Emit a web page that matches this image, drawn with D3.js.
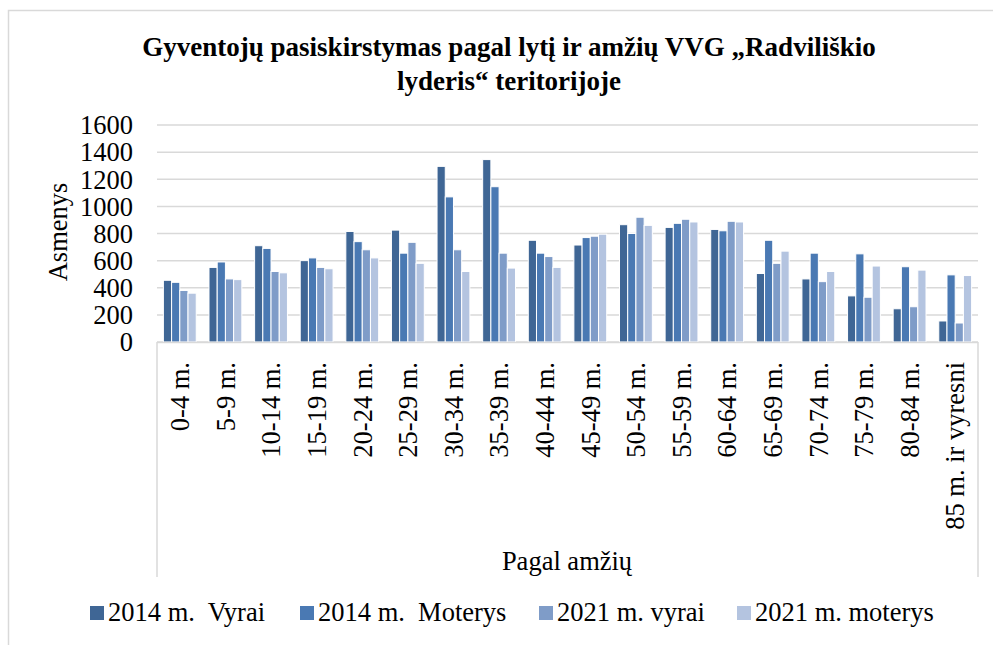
<!DOCTYPE html>
<html>
<head>
<meta charset="utf-8">
<script src="https://cdn.jsdelivr.net/npm/d3@7"></script>
<style>
  body { margin: 0; background: #fff; }
  text { font-family: "Liberation Serif", "Times New Roman", serif; fill: #000; }
</style>
</head>
<body>
<svg id="chart" width="993" height="645"></svg>
<script>
var ageGroups = ["0-4 m.", "5-9 m.", "10-14 m.", "15-19 m.", "20-24 m.", "25-29 m.", "30-34 m.", "35-39 m.",
  "40-44 m.", "45-49 m.", "50-54 m.", "55-59 m.", "60-64 m.", "65-69 m.", "70-74 m.", "75-79 m.", "80-84 m.", "85 m. ir vyresni"];
var seriesNames = ["2014 m.  Vyrai", "2014 m.  Moterys", "2021 m. vyrai", "2021 m. moterys"];
var seriesColors = ["#3f6695", "#4a79b3", "#7f9cc8", "#b4c4e0"];
var men2014   = [455, 550, 710, 600, 815, 825, 1295, 1345, 750, 715, 865, 845, 830, 505, 465, 340, 245, 155];
var women2014 = [440, 590, 690, 620, 740, 655, 1070, 1145, 655, 770, 800, 875, 820, 750, 655, 650, 555, 495];
var men2021   = [380, 465, 520, 550, 680, 735, 680, 655, 630, 780, 920, 905, 890, 580, 445, 330, 260, 140];
var women2021 = [360, 460, 510, 540, 620, 580, 520, 545, 550, 795, 860, 885, 885, 670, 520, 560, 530, 490];
var yTicks = [0, 200, 400, 600, 800, 1000, 1200, 1400, 1600];

var seriesValues = [men2014, women2014, men2021, women2021];
var svg = d3.select("#chart");

// outer frame
svg.append("path")
  .attr("d", "M8.5,645 V10.5 H993")
  .attr("fill", "none")
  .attr("stroke", "#d9d9d9")
  .attr("stroke-width", 1.5);

var plotLeft = 157, plotRight = 978, plotTop = 125, plotBottom = 342;

var x = d3.scaleBand().domain(ageGroups).range([plotLeft, plotRight]).paddingInner(0.28).paddingOuter(0.14);
var xs = d3.scaleBand().domain(d3.range(4)).range([0, x.bandwidth()]);
var y = d3.scaleLinear().domain([0, 1600]).range([plotBottom, plotTop]);

// gridlines
svg.append("g").selectAll("line").data(yTicks).join("line")
  .attr("x1", plotLeft).attr("x2", plotRight)
  .attr("y1", function(d) { return y(d); }).attr("y2", function(d) { return y(d); })
  .attr("stroke", "#d9d9d9").attr("stroke-width", 1.5);

// y tick labels
svg.append("g").selectAll("text").data(yTicks).join("text")
  .attr("x", 133).attr("y", function(d) { return y(d); })
  .attr("dy", "0.35em")
  .attr("text-anchor", "end")
  .style("font-size", "26.5px")
  .text(function(d) { return d; });

// bars
var groups = svg.append("g").selectAll("g").data(ageGroups).join("g")
  .attr("transform", function(d) { return "translate(" + x(d) + ",0)"; });

groups.selectAll("rect")
  .data(function(d, i) { return seriesValues.map(function(s, k) { return { k: k, v: s[i] }; }); })
  .join("rect")
  .attr("x", function(d) { return xs(d.k); })
  .attr("width", xs.bandwidth())
  .attr("y", function(d) { return y(d.v); })
  .attr("height", function(d) { return y(0) - y(d.v); })
  .attr("fill", function(d) { return seriesColors[d.k]; })
  .attr("stroke", "#fff")
  .attr("stroke-width", 1);

// category axis lines
svg.append("path")
  .attr("d", "M" + plotLeft + "," + (plotBottom + 0.5) + " H" + plotRight +
    " M" + plotLeft + "," + plotBottom + " V577 M" + plotRight + "," + plotBottom + " V577")
  .attr("fill", "none")
  .attr("stroke", "#d9d9d9")
  .attr("stroke-width", 1.5);

// category labels
svg.append("g").selectAll("text").data(ageGroups).join("text")
  .attr("transform", function(d) { return "translate(" + (x(d) + x.bandwidth() / 2) + ",362) rotate(-90)"; })
  .attr("dy", "0.35em")
  .attr("text-anchor", "end")
  .style("font-size", "26.5px")
  .text(function(d) { return d; });

// titles
var title = svg.append("text")
  .attr("text-anchor", "middle")
  .style("font-size", "27px")
  .style("font-weight", "bold");
title.append("tspan").attr("x", 509).attr("y", 56).text("Gyventojų pasiskirstymas pagal lytį ir amžių VVG „Radviliškio");
title.append("tspan").attr("x", 509).attr("y", 90).text("lyderis“ teritorijoje");

svg.append("text")
  .attr("transform", "translate(67,232) rotate(-90)")
  .attr("text-anchor", "middle")
  .style("font-size", "26.5px")
  .text("Asmenys");

svg.append("text")
  .attr("x", 567).attr("y", 570)
  .attr("text-anchor", "middle")
  .style("font-size", "26.5px")
  .text("Pagal amžių");

// legend
var legendX = [90, 300, 539, 737];
var legend = svg.append("g").selectAll("g").data(seriesNames).join("g")
  .attr("transform", function(d, i) { return "translate(" + legendX[i] + ",606)"; });
legend.append("rect")
  .attr("width", 14).attr("height", 14)
  .attr("fill", function(d, i) { return seriesColors[i]; });
legend.append("text")
  .attr("x", 18).attr("y", 15)
  .style("font-size", "26.5px")
  .style("white-space", "pre")
  .attr("xml:space", "preserve")
  .text(function(d) { return d; });
</script>
</body>
</html>
